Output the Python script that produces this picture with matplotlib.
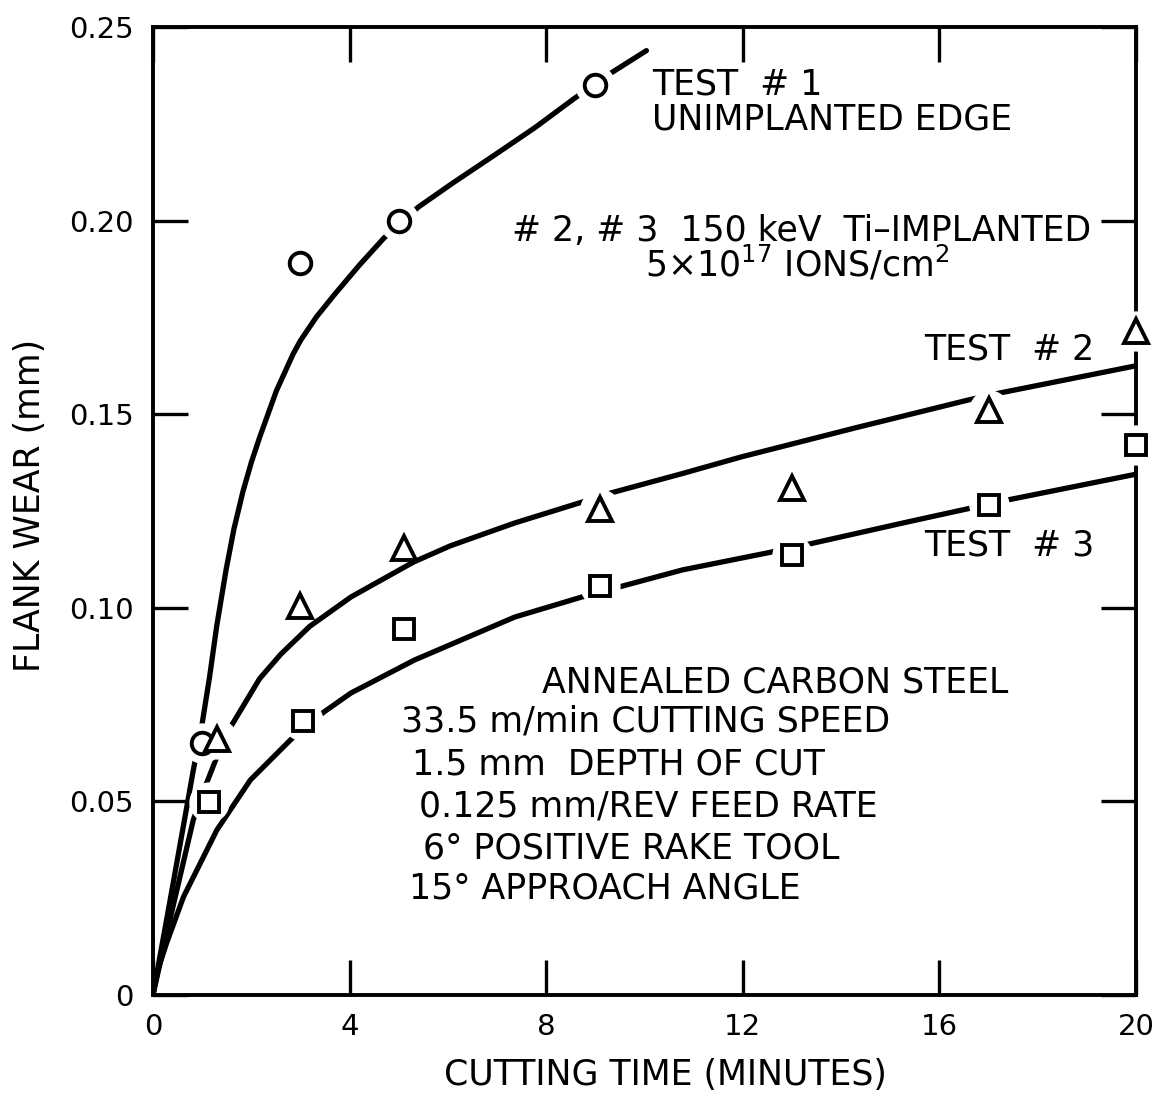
import matplotlib
matplotlib.use("Agg")
import matplotlib.pyplot as plt

# ---------------- data ----------------
# fitted curves
t1_x = [0, 0.3, 0.61, 0.82, 1.0, 1.15, 1.3, 1.49, 1.65, 1.83, 2.0, 2.17, 2.51,
        2.85, 3.0, 3.33, 3.7, 4.2, 4.7, 5.4, 6.1, 6.9, 7.77, 8.6, 9.28, 10.04]
t1_y = [0, 0.021, 0.0430, 0.0580, 0.070, 0.082, 0.0955, 0.110, 0.1205, 0.130,
        0.1375, 0.144, 0.156, 0.1655, 0.169, 0.1752, 0.181, 0.1885, 0.1955,
        0.2035, 0.2097, 0.2165, 0.2240, 0.2318, 0.2378, 0.2439]

t2_x = [0, 0.3, 0.82, 1.06, 1.27, 1.57, 2.17, 2.6, 3.19, 4.03, 5.3, 6.05, 7.36,
        8.73, 9.3, 10.78, 11.98, 14.3, 16.6, 17.2, 20]
t2_y = [0, 0.017, 0.0452, 0.0537, 0.0605, 0.0690, 0.0817, 0.0880, 0.0952,
        0.1028, 0.1118, 0.1160, 0.1219, 0.1273, 0.1296, 0.1347, 0.1390, 0.1465,
        0.1537, 0.1554, 0.1625]

t3_x = [0, 0.1, 0.28, 0.62, 1.3, 1.98, 2.8, 3.48, 4.03, 5.32, 7.36, 8.73, 9.49,
        10.78, 12.55, 13.4, 15.4, 17.45, 20]
t3_y = [0, 0.0065, 0.0135, 0.0253, 0.0426, 0.0555, 0.0659, 0.0731, 0.0780,
        0.0865, 0.0976, 0.1028, 0.1054, 0.1098, 0.1143, 0.1166, 0.1223, 0.1280,
        0.1345]

# measured points
circ_x = [1.0, 3.0, 5.0, 9.0]
circ_y = [0.065, 0.189, 0.200, 0.235]
tri_x = [1.3, 3.0, 5.1, 9.1, 13.0, 17.0, 20.0]
tri_y = [0.066, 0.1005, 0.1155, 0.1255, 0.131, 0.151, 0.1715]
sq_x = [1.15, 3.05, 5.1, 9.1, 13.0, 17.0, 20.0]
sq_y = [0.0498, 0.0708, 0.0945, 0.1055, 0.1136, 0.1266, 0.142]

# which markers break the drawn line (white gap around them)
circ_gap = [True, False, True, True]
tri_gap = [True, False, False, True, False, True, True]
sq_gap = [True, True, False, True, True, True, True]

x_ticks = [0, 4, 8, 12, 16, 20]
x_ticklabels = ["0", "4", "8", "12", "16", "20"]
y_ticks = [0, 0.05, 0.10, 0.15, 0.20, 0.25]
y_ticklabels = ["0", "0.05", "0.10", "0.15", "0.20", "0.25"]

# ---------------- figure ----------------
plt.rcParams['font.family'] = ['DejaVu Sans']
plt.rcParams['mathtext.default'] = 'regular'

fig = plt.figure(figsize=(11.65, 10.93), dpi=100)
ax = fig.add_axes([0.1313, 0.0897, 0.8438, 0.8856])
ax.set_xlim(0, 20)
ax.set_ylim(0, 0.25)

LW = 3.8
for xs, ys in [(t1_x, t1_y), (t2_x, t2_y), (t3_x, t3_y)]:
    ax.plot(xs, ys, color='black', lw=LW, solid_capstyle='round',
            solid_joinstyle='round', zorder=2)

def halo(xs, ys, flags):
    hx = [x for x, f in zip(xs, flags) if f]
    hy = [y for y, f in zip(ys, flags) if f]
    ax.plot(hx, hy, linestyle='none', marker='o', markersize=28,
            markerfacecolor='white', markeredgecolor='white', zorder=5,
            clip_on=False)

halo(circ_x, circ_y, circ_gap)
halo(tri_x, tri_y, tri_gap)
halo(sq_x, sq_y, sq_gap)

mk = dict(linestyle='none', markerfacecolor='white', markeredgecolor='black',
          markeredgewidth=2.8, zorder=6, clip_on=False)
ax.plot(circ_x, circ_y, marker='o', markersize=15.5, **mk)
ax.plot(tri_x, tri_y, marker='^', markersize=17, **mk)
ax.plot(sq_x, sq_y, marker='s', markersize=15, **mk)

for s in ax.spines.values():
    s.set_linewidth(2.8)
    s.set_zorder(3)

ax.set_xticks(x_ticks)
ax.set_xticklabels(x_ticklabels)
ax.set_yticks(y_ticks)
ax.set_yticklabels(y_ticklabels)
ax.tick_params(direction='in', length=25, width=2.4, top=True, right=True,
               labelsize=21)
ax.tick_params(axis='x', pad=13)
ax.tick_params(axis='y', pad=14)

fs = 25
ax.text(10.16, 0.2352, "TEST  # 1", fontsize=fs, ha='left', va='center')
ax.text(10.16, 0.2262, "UNIMPLANTED EDGE", fontsize=fs, ha='left', va='center')
ax.text(7.30, 0.1948, "# 2, # 3  150 keV  Ti\u2013IMPLANTED", fontsize=fs,
        ha='left', va='baseline')
ax.text(13.1, 0.1856, r"5$\times$10$^{17}$ IONS/cm$^{2}$", fontsize=25,
        ha='center', va='baseline')
ax.text(15.68, 0.1666, "TEST  # 2", fontsize=fs, ha='left', va='center')
ax.text(15.68, 0.1162, "TEST  # 3", fontsize=fs, ha='left', va='center')

block = [
    (7.91, 0.0806, "ANNEALED CARBON STEEL"),
    (5.05, 0.0705, "33.5 m/min CUTTING SPEED"),
    (5.26, 0.0594, "1.5 mm  DEPTH OF CUT"),
    (5.42, 0.0486, "0.125 mm/REV FEED RATE"),
    (5.50, 0.0377, "6\u00b0 POSITIVE RAKE TOOL"),
    (5.21, 0.0276, "15\u00b0 APPROACH ANGLE"),
]
for bx, by, s in block:
    ax.text(bx, by, s, fontsize=fs, ha='left', va='center')

fig.text(0.571, 0.0165, "CUTTING TIME (MINUTES)", ha='center', va='center',
         fontsize=25)
fig.text(0.0258, 0.538, "FLANK WEAR (mm)", rotation=90, ha='center',
         va='center', fontsize=25)

fig.savefig("out.png", dpi=100)
